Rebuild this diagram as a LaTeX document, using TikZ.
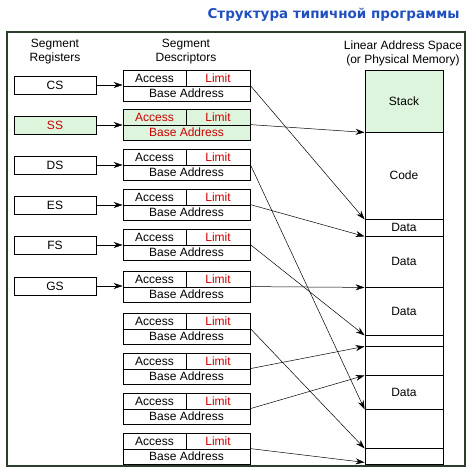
\documentclass[tikz,border=0pt]{standalone}
\usepackage{fontspec}
\setmainfont{Liberation Sans}
\newfontfamily\titlefont{DejaVu Sans}
\usetikzlibrary{positioning, arrows.meta}
\definecolor{Frame}{HTML}{2B3F2B}
\definecolor{Heading}{HTML}{2050C0}
\definecolor{Pale}{HTML}{DDF5DD}
\definecolor{Hot}{HTML}{CC0000}
\tikzset{
    regbox/.style={rectangle, draw, line width=0.8pt, minimum width=82pt, minimum height=18pt, inner sep=0pt, font=\fontsize{12}{14}\selectfont},
    acccell/.style={rectangle, draw, line width=0.8pt, minimum width=63pt, minimum height=16pt, inner sep=0pt, font=\fontsize{12}{14}\selectfont},
    limcell/.style={acccell, minimum width=64pt, text=Hot},
    basecell/.style={acccell, minimum width=127pt, minimum height=15pt},
    memcell/.style={rectangle, draw, line width=0.8pt, minimum width=78pt, inner sep=0pt, font=\fontsize{12}{14}\selectfont},
    hot/.style={fill=Pale, text=Hot},
    caption/.style={align=center, font=\fontsize{12}{14}\selectfont},
    arrow/.style={-{Stealth[length=9pt, width=6pt]}, line width=0.5pt},
}

\begin{document}
\begin{tikzpicture}[x=1pt, y=-1pt]
    \useasboundingbox (0,0) rectangle (471,475);
    % Titolo e cornice
    \node[font=\titlefont\bfseries\fontsize{13.5}{15}\selectfont, text=Heading, anchor=east] (title) at (463,15) {Структура типичной программы};
    \draw[Frame, line width=1.2pt] (7,32) rectangle (465,466);

    % Intestazioni
    \node[caption] (hreg) at (55,52) {Segment\\Registers};
    \node[caption] (hdesc) at (186,52) {Segment\\Descriptors};
    \node[caption] (hmem) at (403,53) {Linear Address Space\\(or Physical Memory)};

    % Registri di segmento
    \node[regbox] (cs) at (55,85) {CS};
    \node[regbox, hot] (ss) at (55,125) {SS};
    \node[regbox] (ds) at (55,165) {DS};
    \node[regbox] (es) at (55,205) {ES};
    \node[regbox] (fs) at (55,245) {FS};
    \node[regbox] (gs) at (55,286) {GS};

    % Descrittori: Access | Limit sopra, Base Address sotto
    \node[acccell] (d1a) at (154.5,78) {Access};
    \node[limcell] (d1l) at (218,78) {Limit};
    \node[basecell] (d1b) at (186.5,93.5) {Base Address};
    \node[acccell, hot] (d2a) at (154.5,117) {Access};
    \node[limcell, hot] (d2l) at (218,117) {Limit};
    \node[basecell, hot] (d2b) at (186.5,132.5) {Base Address};
    \node[acccell] (d3a) at (154.5,157) {Access};
    \node[limcell] (d3l) at (218,157) {Limit};
    \node[basecell] (d3b) at (186.5,172.5) {Base Address};
    \node[acccell] (d4a) at (154.5,197) {Access};
    \node[limcell] (d4l) at (218,197) {Limit};
    \node[basecell] (d4b) at (186.5,212.5) {Base Address};
    \node[acccell] (d5a) at (154.5,237) {Access};
    \node[limcell] (d5l) at (218,237) {Limit};
    \node[basecell] (d5b) at (186.5,252.5) {Base Address};
    \node[acccell] (d6a) at (154.5,279) {Access};
    \node[limcell] (d6l) at (218,279) {Limit};
    \node[basecell] (d6b) at (186.5,294.5) {Base Address};
    \node[acccell] (d7a) at (154.5,321) {Access};
    \node[limcell] (d7l) at (218,321) {Limit};
    \node[basecell] (d7b) at (186.5,336.5) {Base Address};
    \node[acccell] (d8a) at (154.5,361) {Access};
    \node[limcell] (d8l) at (218,361) {Limit};
    \node[basecell] (d8b) at (186.5,376.5) {Base Address};
    \node[acccell] (d9a) at (154.5,401) {Access};
    \node[limcell] (d9l) at (218,401) {Limit};
    \node[basecell] (d9b) at (186.5,416.5) {Base Address};
    \node[acccell] (d10a) at (154.5,441) {Access};
    \node[limcell] (d10l) at (218,441) {Limit};
    \node[basecell] (d10b) at (186.5,456.5) {Base Address};

    % Memoria lineare
    \node[memcell, fill=Pale, minimum height=62pt] (stack) at (404,101) {Stack};
    \node[memcell, minimum height=87pt] (code) at (404,175.5) {Code};
    \node[memcell, minimum height=17pt] (data1) at (404,227.5) {Data};
    \node[memcell, minimum height=51pt] (data2) at (404,261.5) {Data};
    \node[memcell, minimum height=48pt] (data3) at (404,311) {Data};
    \node[memcell, minimum height=11pt] (gap1) at (404,340.5) {};
    \node[memcell, minimum height=29pt] (gap2) at (404,360.5) {};
    \node[memcell, minimum height=34pt] (data4) at (404,392) {Data};
    \node[memcell, minimum height=39pt] (gap3) at (404,428.5) {};
    \node[memcell, minimum height=16pt] (gap4) at (404,456) {};

    % Registro -> descrittore
    \draw[arrow] (cs.east) -- (cs.east -| d1a.west);
    \draw[arrow] (ss.east) -- (ss.east -| d2a.west);
    \draw[arrow] (ds.east) -- (ds.east -| d3a.west);
    \draw[arrow] (es.east) -- (es.east -| d4a.west);
    \draw[arrow] (fs.east) -- (fs.east -| d5a.west);
    \draw[arrow] (gs.east) -- (gs.east -| d6a.west);

    % Descrittore -> base del segmento in memoria
    \draw[arrow] (d1b.north east) -- (code.south west);
    \draw[arrow] (d2b.north east) -- (stack.south west);
    \draw[arrow] (d3b.north east) -- (data4.south west);
    \draw[arrow] (d4b.north east) -- (data1.south west);
    \draw[arrow] (d5b.north east) -- (data3.south west);
    \draw[arrow] (d6b.north east) -- (data2.south west);
    \draw[arrow] (d7b.north east) -- (gap3.south west);
    \draw[arrow] (d8b.north east) -- (gap1.south west);
    \draw[arrow] (d9b.north east) -- (gap2.south west);
    \draw[arrow] (d10b.north east) -- ([yshift=2pt]gap4.south west);
\end{tikzpicture}
\end{document}
